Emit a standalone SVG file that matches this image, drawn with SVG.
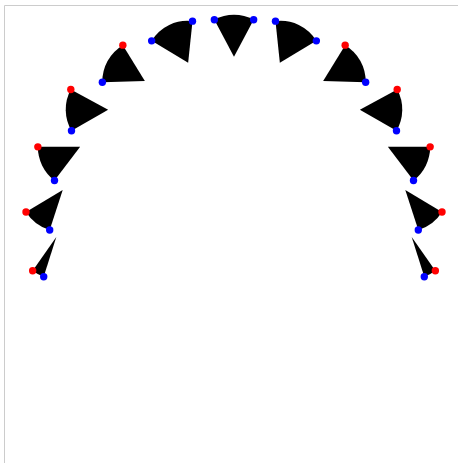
<svg xmlns="http://www.w3.org/2000/svg" width="458" height="463" viewBox="0 0 458 463">
<style>
.w{fill:#000;stroke:none}
.r{fill:#f00}
.b{fill:#00f}
.frame{stroke:#cccccc;stroke-width:1;fill:none}
</style>
<rect width="458" height="463" fill="#fff"/>
<path class="frame" d="M4.5,463 V5.5 H458"/>
<g id="w1">
<path class="w" d="M234,56.7 L214.35,19.7 A42,42 0 0 1 253.65,19.7 Z"/>
<circle class="b" cx="214.35" cy="19.7" r="3.7"/><circle class="b" cx="253.65" cy="19.7" r="3.7"/>
</g>
<g id="w2r">
<path class="w" d="M279.85,62.8 L275.5,21.15 A42,42 0 0 1 316.35,40.85 Z"/>
<circle class="b" cx="275.5" cy="21.15" r="3.7"/><circle class="b" cx="316.35" cy="40.85" r="3.7"/>
</g>
<g id="w3r">
<path class="w" d="M323.15,81 L345.15,45.15 A42,42 0 0 1 365.65,82.3 Z"/>
<circle class="r" cx="345.15" cy="45.15" r="3.7"/><circle class="b" cx="365.65" cy="82.3" r="3.7"/>
</g>
<g id="w4r">
<path class="w" d="M359.85,109.65 L397.2,89.5 A42,42 0 0 1 396.5,130.7 Z"/>
<circle class="r" cx="397.2" cy="89.5" r="3.7"/><circle class="b" cx="396.5" cy="130.7" r="3.7"/>
</g>
<g id="w5r">
<path class="w" d="M387.85,146.85 L430.15,146.85 A42,42 0 0 1 413.5,180.5 Z"/>
<circle class="r" cx="430.15" cy="146.85" r="3.7"/><circle class="b" cx="413.5" cy="180.5" r="3.7"/>
</g>
<g id="w6r">
<path class="w" d="M405.3,190 L442,212 A42,42 0 0 1 418.3,230 Z"/>
<circle class="r" cx="442" cy="212" r="3.7"/><circle class="b" cx="418.3" cy="230" r="3.7"/>
</g>
<g id="w7r">
<path class="w" d="M411.7,237 L435.35,270.7 A42,42 0 0 1 424.3,276.7 Z"/>
<circle class="r" cx="435.35" cy="270.7" r="3.7"/><circle class="b" cx="424.3" cy="276.7" r="3.7"/>
</g>
<g id="w2l">
<path class="w" d="M188.15,62.8 L192.5,21.15 A42,42 0 0 0 151.65,40.85 Z"/>
<circle class="b" cx="192.5" cy="21.15" r="3.7"/><circle class="b" cx="151.65" cy="40.85" r="3.7"/>
</g>
<g id="w3l">
<path class="w" d="M144.85,81 L122.85,45.15 A42,42 0 0 0 102.35,82.3 Z"/>
<circle class="r" cx="122.85" cy="45.15" r="3.7"/><circle class="b" cx="102.35" cy="82.3" r="3.7"/>
</g>
<g id="w4l">
<path class="w" d="M108.15,109.65 L70.8,89.5 A42,42 0 0 0 71.5,130.7 Z"/>
<circle class="r" cx="70.8" cy="89.5" r="3.7"/><circle class="b" cx="71.5" cy="130.7" r="3.7"/>
</g>
<g id="w5l">
<path class="w" d="M80.15,146.85 L37.85,146.85 A42,42 0 0 0 54.5,180.5 Z"/>
<circle class="r" cx="37.85" cy="146.85" r="3.7"/><circle class="b" cx="54.5" cy="180.5" r="3.7"/>
</g>
<g id="w6l">
<path class="w" d="M62.7,190 L26,212 A42,42 0 0 0 49.7,230 Z"/>
<circle class="r" cx="26" cy="212" r="3.7"/><circle class="b" cx="49.7" cy="230" r="3.7"/>
</g>
<g id="w7l">
<path class="w" d="M56.3,237 L32.65,270.7 A42,42 0 0 0 43.7,276.7 Z"/>
<circle class="r" cx="32.65" cy="270.7" r="3.7"/><circle class="b" cx="43.7" cy="276.7" r="3.7"/>
</g>
</svg>
